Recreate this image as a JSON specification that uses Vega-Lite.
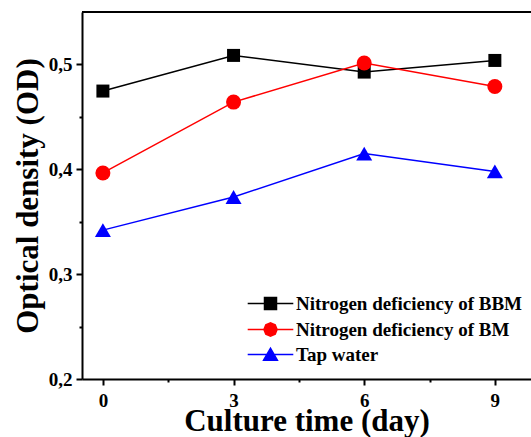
{
  "$schema": "https://vega.github.io/schema/vega-lite/v6.json",
  "width": 449,
  "height": 367,
  "autosize": {"type": "none"},
  "padding": {"left": 82, "top": 12, "right": 0, "bottom": 58},
  "background": "white",
  "config": {
    "view": {"stroke": null},
    "font": "Liberation Serif",
    "axis": {
      "domainColor": "#000",
      "domainWidth": 2,
      "tickColor": "#000",
      "tickWidth": 2,
      "labelFont": "Liberation Serif",
      "labelFontSize": 19,
      "labelFontWeight": "bold",
      "labelColor": "#000",
      "titleFont": "Liberation Serif",
      "titleFontSize": 31,
      "titleFontWeight": "bold",
      "titleColor": "#000",
      "grid": false
    },
    "legend": {
      "orient": "none",
      "legendX": 179,
      "legendY": 282,
      "padding": 0,
      "labelFont": "Liberation Serif",
      "labelFontSize": 19,
      "labelFontWeight": "bold",
      "labelColor": "#000",
      "labelLimit": 0,
      "labelOffset": 16,
      "symbolSize": 144,
      "symbolStrokeWidth": 1.5,
      "symbolOpacity": 1,
      "rowPadding": 5
    }
  },
  "data": {
    "values": [
      {"day": 0, "od": 0.4746, "series": "Nitrogen deficiency of BBM"},
      {"day": 3, "od": 0.5086, "series": "Nitrogen deficiency of BBM"},
      {"day": 6, "od": 0.4927, "series": "Nitrogen deficiency of BBM"},
      {"day": 9, "od": 0.5038, "series": "Nitrogen deficiency of BBM"},
      {"day": 0, "od": 0.3965, "series": "Nitrogen deficiency of BM"},
      {"day": 3, "od": 0.4641, "series": "Nitrogen deficiency of BM"},
      {"day": 6, "od": 0.5013, "series": "Nitrogen deficiency of BM"},
      {"day": 9, "od": 0.479, "series": "Nitrogen deficiency of BM"},
      {"day": 0, "od": 0.342, "series": "Tap water"},
      {"day": 3, "od": 0.3736, "series": "Tap water"},
      {"day": 6, "od": 0.415, "series": "Tap water"},
      {"day": 9, "od": 0.398, "series": "Tap water"}
    ]
  },
  "layer": [
    {
      "data": {"values": [{"od": 0.55}]},
      "mark": {"type": "rule", "color": "#000", "strokeWidth": 2},
      "encoding": {
        "y": {"field": "od", "type": "quantitative", "title": "Optical density (OD)", "scale": {"domain": [0.2, 0.55], "nice": false, "zero": false}}
      }
    },
    {
      "mark": {"type": "point", "opacity": 0, "strokeWidth": 1.5},
      "encoding": {
        "x": {"field": "day", "type": "quantitative"},
        "y": {"field": "od", "type": "quantitative"},
        "fill": {
          "field": "series", "type": "nominal",
          "scale": {"domain": ["Nitrogen deficiency of BBM", "Nitrogen deficiency of BM", "Tap water"], "range": ["#000000", "#ff0000", "#0000ff"]},
          "legend": {"title": null}
        },
        "stroke": {
          "field": "series", "type": "nominal",
          "scale": {"domain": ["Nitrogen deficiency of BBM", "Nitrogen deficiency of BM", "Tap water"], "range": ["#000000", "#ff0000", "#0000ff"]},
          "legend": {"title": null}
        },
        "shape": {
          "field": "series", "type": "nominal",
          "scale": {"domain": ["Nitrogen deficiency of BBM", "Nitrogen deficiency of BM", "Tap water"], "range": ["M-3.8,0H3.8M-1,-1H1V1H-1Z", "M-3.8,0H3.8M-1.1,0L-0.78,-0.78L0,-1.1L0.78,-0.78L1.1,0L0.78,0.78L0,1.1L-0.78,0.78Z", "M-3.8,0H3.8M-1.15,0.95L0,-1.05L1.15,0.95Z"]},
          "legend": {"title": null}
        }
      }
    },
    {
      "mark": {"type": "line", "strokeWidth": 1.5},
      "encoding": {
        "x": {
          "field": "day", "type": "quantitative", "title": "Culture time (day)",
          "scale": {"domain": [-0.48, 9.83], "nice": false, "zero": false},
          "axis": {
            "values": [0, 1.5, 3, 4.5, 6, 7.5, 9],
            "labelExpr": "datum.value % 3 == 0 ? datum.label : ''",
            "tickSize": {"condition": {"test": "datum.value % 3 == 0", "value": 6}, "value": 3},
            "labelPadding": 6,
            "titlePadding": -4
          }
        },
        "y": {
          "field": "od", "type": "quantitative", "title": "Optical density (OD)",
          "scale": {"domain": [0.2, 0.55], "nice": false, "zero": false},
          "axis": {
            "values": [0.2, 0.25, 0.3, 0.35, 0.4, 0.45, 0.5],
            "labelExpr": "abs(datum.value*10 - round(datum.value*10)) < 0.001 ? replace(format(datum.value, '.1f'), '.', ',') : ''",
            "tickSize": {"condition": {"test": "abs(datum.value*10 - round(datum.value*10)) < 0.001", "value": 6}, "value": 3},
            "labelPadding": 4,
            "titlePadding": 4
          }
        },
        "color": {
          "field": "series", "type": "nominal",
          "scale": {"domain": ["Nitrogen deficiency of BBM", "Nitrogen deficiency of BM", "Tap water"], "range": ["#000000", "#ff0000", "#0000ff"]},
          "legend": null
        }
      }
    },
    {
      "transform": [{"filter": "datum.series == 'Nitrogen deficiency of BBM'"}],
      "mark": {"type": "point", "filled": true, "opacity": 1, "shape": "square", "size": 169, "color": "#000000"},
      "encoding": {
        "x": {"field": "day", "type": "quantitative"},
        "y": {"field": "od", "type": "quantitative"}
      }
    },
    {
      "transform": [{"filter": "datum.series == 'Nitrogen deficiency of BM'"}],
      "mark": {"type": "point", "filled": true, "opacity": 1, "shape": "circle", "size": 225, "color": "#ff0000"},
      "encoding": {
        "x": {"field": "day", "type": "quantitative"},
        "y": {"field": "od", "type": "quantitative"}
      }
    },
    {
      "transform": [{"filter": "datum.series == 'Tap water'"}],
      "mark": {"type": "point", "filled": true, "opacity": 1, "shape": "triangle-up", "size": 256, "color": "#0000ff"},
      "encoding": {
        "x": {"field": "day", "type": "quantitative"},
        "y": {"field": "od", "type": "quantitative"}
      }
    }
  ]
}
